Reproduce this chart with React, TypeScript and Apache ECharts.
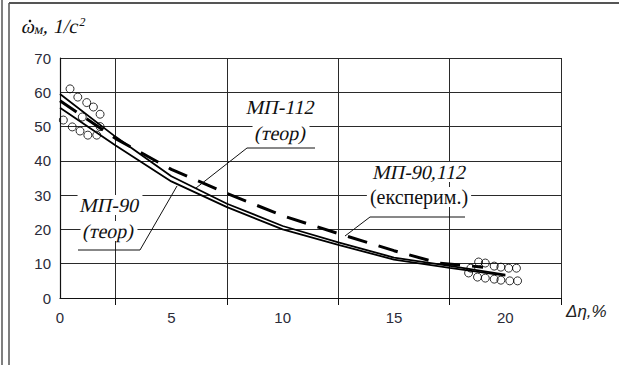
import React, { useEffect, useRef } from "react";
import * as echarts from "echarts";

const xTheor = [0, 2.5, 5, 7.5, 10, 12.5, 15, 17.5, 20];
const yMP112 = [59.5, 47, 35.5, 27.5, 21, 16.2, 11.8, 9.4, 6.8];
const yMP90 = [55.5, 44.5, 34, 26.5, 20, 15.5, 11.2, 8.8, 6.5];

const xExp = [0, 2.5, 5, 7.5, 10, 12.5, 15, 17, 19];
const yExp = [57.5, 46.5, 37.5, 30.5, 24, 18.8, 13.8, 10.2, 9];

const ptsStartX = [0.45, 0.8, 1.2, 1.5, 1.8, 1.0, 0.15, 0.55, 0.9, 1.25, 1.65, 1.8];
const ptsStartY = [61, 58.6, 57, 55.7, 53.6, 52.8, 51.9, 49.9, 48.7, 47.5, 47.5, 50];
const ptsEndX = [18.45, 18.8, 19.1, 19.5, 19.8, 20.15, 20.5, 18.35, 18.75, 19.1, 19.5, 19.8, 20.2, 20.55];
const ptsEndY = [8.7, 10.5, 10.2, 9.3, 9.0, 8.7, 8.7, 7.3, 6.1, 5.8, 5.5, 5.2, 5.0, 5.0];

const xLabels = [0, 5, 10, 15, 20];
const xTicks = [2.5, 7.5, 12.5, 17.5, 22.5];

const zip = (xs: number[], ys: number[]) => xs.map((x, i) => [x, ys[i]]);

const ITALIC_TEXTS = new Set(["МП-112", "(теор)", "МП-90", "МП-90,112", "ω", "м", ", 1/c", "2"]);

export default function App() {
  const ref = useRef<HTMLDivElement>(null);
  useEffect(() => {
    const chart = echarts.init(ref.current!, null, { renderer: "svg" });
    const serif = "Liberation Serif";
    const sans = "Liberation Sans";
    const lineColor = "#2a2a2a";
    const ann = (x: number, y: number, text: string) => ({
      type: "text",
      x,
      y,
      style: {
        text,
        fontFamily: serif,
        fontSize: 20,
        fill: "#111",
        align: "center",
        verticalAlign: "middle",
        backgroundColor: "#fff",
        padding: [0, 3],
      },
      z: 10,
    });
    chart.setOption({
      animation: false,
      backgroundColor: "#fff",
      grid: { left: 60, top: 58, right: 58, bottom: 67 },
      xAxis: {
        type: "value",
        min: 0,
        max: 22.5,
        interval: 2.5,
        axisLine: { show: true, lineStyle: { color: "#111", width: 1.2 } },
        axisTick: { show: true, customValues: xTicks, length: 7, lineStyle: { color: "#111" } },
        axisLabel: { customValues: xLabels, margin: 12, color: "#2b2b38", fontFamily: sans, fontSize: 15 },
        splitLine: { show: true, lineStyle: { color: lineColor, width: 1 } },
      },
      yAxis: {
        type: "value",
        min: 0,
        max: 70,
        interval: 10,
        axisLine: { show: true, lineStyle: { color: "#111", width: 1.2 } },
        axisTick: { show: false },
        axisLabel: { margin: 9, color: "#2b2b38", fontFamily: sans, fontSize: 15 },
        splitLine: { show: true, lineStyle: { color: lineColor, width: 1 } },
      },
      series: [
        { type: "line", name: "МП-112", data: zip(xTheor, yMP112), symbol: "none", lineStyle: { color: "#000", width: 1.8 }, z: 3 },
        { type: "line", name: "МП-90", data: zip(xTheor, yMP90), symbol: "none", lineStyle: { color: "#000", width: 1.8 }, z: 3 },
        {
          type: "line",
          name: "МП-90,112 (експерим.)",
          data: zip(xExp, yExp),
          symbol: "none",
          lineStyle: { color: "#000", width: 3, type: [20, 12] },
          z: 3,
        },
        {
          type: "scatter",
          data: zip(ptsStartX, ptsStartY).concat(zip(ptsEndX, ptsEndY)),
          symbol: "circle",
          symbolSize: 8,
          itemStyle: { color: "rgba(255,255,255,0)", borderColor: "#000", borderWidth: 1 },
          z: 4,
        },
      ],
      graphic: [
        { type: "line", shape: { x1: 2, y1: 0, x2: 2, y2: 365 }, style: { stroke: "#555", lineWidth: 1.5 } },
        { type: "line", shape: { x1: 9, y1: 3, x2: 9, y2: 365 }, style: { stroke: "#555", lineWidth: 1.5 } },
        { type: "line", shape: { x1: 9, y1: 3, x2: 619, y2: 3 }, style: { stroke: "#555", lineWidth: 2 } },
        {
          type: "text",
          x: 20,
          y: 37,
          style: {
            text: "{a|ω}{b|м}{a|, 1/c}{s|2}",
            verticalAlign: "bottom",
            rich: {
              a: { fontFamily: serif, fontSize: 20, fill: "#111" },
              b: { fontFamily: serif, fontSize: 14, fill: "#111", padding: [6, 0, 0, 0] },
              s: { fontFamily: serif, fontSize: 12, fill: "#111", padding: [0, 0, 9, 0] },
            },
          },
          z: 10,
        },
        { type: "circle", shape: { cx: 30, cy: 21, r: 1.3 }, style: { fill: "#111" }, z: 11 },
        {
          type: "text",
          left: 566,
          top: 303,
          style: { text: "Δη,%", fontFamily: sans, fontStyle: "italic", fontSize: 17, fill: "#222" },
          z: 10,
        },
        ann(281, 107, "МП-112"),
        ann(281, 133, "(теор)"),
        { type: "polyline", shape: { points: [[315, 148], [247, 148], [196, 188]] }, style: { stroke: "#111", lineWidth: 1, fill: null }, z: 11 },
        ann(110, 205, "МП-90"),
        ann(109, 231, "(теор)"),
        { type: "polyline", shape: { points: [[78, 250], [140, 250], [177, 186]] }, style: { stroke: "#111", lineWidth: 1, fill: null }, z: 11 },
        ann(420, 172, "МП-90,112"),
        ann(419, 197, "(експерим.)"),
        { type: "polyline", shape: { points: [[465, 217], [370, 217], [345, 236]] }, style: { stroke: "#111", lineWidth: 1, fill: null }, z: 11 },
      ],
    });
    // The installed serif has no italic face: slant the italic texts ourselves.
    const zr: any = chart.getZr();
    zr.storage.getDisplayList(true).forEach((el: any) => {
      if (el.style && typeof el.style.text === "string" && ITALIC_TEXTS.has(el.style.text)) {
        el.skewX = -0.21;
        el.markRedraw();
      }
    });
    zr.refreshImmediately();
    return () => chart.dispose();
  }, []);
  return <div ref={ref} style={{ width: 619, height: 365, position: "absolute", left: 0, top: 0 }} />;
}
